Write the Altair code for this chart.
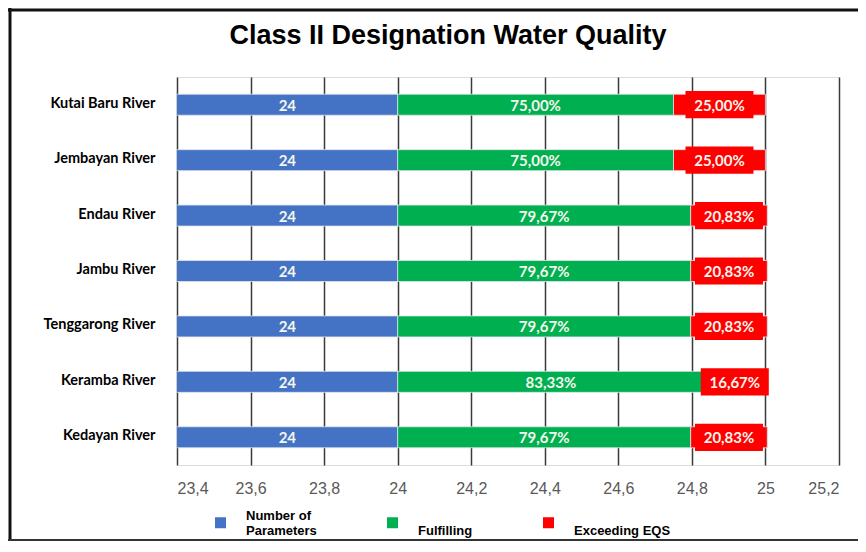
import altair as alt
import pandas as pd

rivers = ["Kutai Baru River", "Jembayan River", "Endau River", "Jambu River",
          "Tenggarong River", "Keramba River", "Kedayan River"]
params = [24, 24, 24, 24, 24, 24, 24]
fulfilling = [75.00, 75.00, 79.67, 79.67, 79.67, 83.33, 79.67]
exceeding = [25.00, 25.00, 20.83, 20.83, 20.83, 16.67, 20.83]
series = ["Number of Parameters", "Fulfilling", "Exceeding EQS"]
colors = ["#4472C4", "#00B050", "#FF0000"]
x_ticks = [23.4, 23.6, 23.8, 24.0, 24.2, 24.4, 24.6, 24.8, 25.0, 25.2]
x_min, x_max = 23.4, 25.2

def pct(v):
    return f"{v:.2f}%".replace(".", ",")

rows = []
for r, p, f, e in zip(rivers, params, fulfilling, exceeding):
    segs = [
        (series[0], 0.0, float(p), str(p)),
        (series[1], float(p), p + f / 100, pct(f)),
        (series[2], p + f / 100, p + f / 100 + e / 100, pct(e)),
    ]
    for s, a, b, lab in segs:
        rows.append({"river": r, "series": s, "start": a, "end": b,
                     "label": lab, "mid": (max(a, x_min) + b) / 2})
df = pd.DataFrame(rows)

W, H = 662, 388
PL, PT, PR, PB = 169, 69, 19, 77

xscale = alt.Scale(domain=[x_min, x_max], zero=False, nice=False)
yenc = alt.Y("river:N", sort=rivers, title=None,
             scale=alt.Scale(paddingInner=0, paddingOuter=0),
             axis=alt.Axis(domain=False, ticks=False, labelPadding=22,
                           labelFont="Lato", labelFontSize=14.5,
                           labelFontWeight="bold", labelColor="#000000",
                           labelOffset=-1))

base = alt.Chart(df)

bars = base.mark_bar(height=21, clip=True, stroke="#dfe3ec", strokeWidth=0.8).encode(
    x=alt.X("start:Q", scale=xscale, title=None,
            axis=alt.Axis(values=x_ticks, grid=True, gridColor="#3a3a3a",
                          gridWidth=1.5, domain=False, ticks=False,
                          labelPadding=15, labelFont="Liberation Sans",
                          labelFontSize=16, labelColor="#595959",
                          labelExpr="replace(format(datum.value, '.1~f'), '.', ',')")),
    x2="end:Q",
    y=yenc,
    color=alt.Color("series:N", scale=alt.Scale(domain=series, range=colors),
                    legend=alt.Legend(orient="none", legendX=37, legendY=439,
                                      direction="horizontal", title=None,
                                      symbolType="square", symbolSize=121,
                                      symbolStrokeWidth=0, labelOffset=19,
                                      columnPadding=69, padding=0,
                                      labelFont="Liberation Sans", labelFontSize=13,
                                      labelFontWeight="bold", labelColor="#000000",
                                      labelLimit=200, labelBaseline="bottom",
                                      labelExpr="datum.label == 'Number of Parameters' ? ['Number of', 'Parameters'] : ['', datum.label]")),
)

boxes = base.transform_filter(alt.datum.series == series[2]).mark_point(
    shape="M-1,-0.4H1V0.4H-1Z", filled=True, opacity=1, size=4624,
    color="#FF0000", strokeWidth=0
).encode(x=alt.X("mid:Q", scale=xscale), y=yenc)

texts = base.mark_text(font="Lato", fontSize=15, fontWeight="bold",
                       color="#f6f6ee", baseline="middle", align="center", dy=1).encode(
    x=alt.X("mid:Q", scale=xscale), y=yenc, text="label:N")

one = alt.Data(values=[{"k": 1}])
border_left = alt.Chart(one).mark_rule(color="#111111", strokeWidth=3).encode(
    x=alt.value(-167), y=alt.value(-PT), y2=alt.value(H + PB - 2))
border_top = alt.Chart(one).mark_rule(color="#111111", strokeWidth=3).encode(
    x=alt.value(-PL), x2=alt.value(W + PR), y=alt.value(-67))
border_bottom = alt.Chart(one).mark_rule(color="#333333", strokeWidth=2).encode(
    x=alt.value(-PL), x2=alt.value(W + PR), y=alt.value(H + PB - 2))

chart = alt.layer(bars, boxes, texts, border_left, border_top, border_bottom).properties(
    width=W, height=H,
    title=alt.TitleParams("Class II Designation Water Quality", anchor="middle",
                          frame="group", dx=-60, dy=64, offset=0,
                          baseline="alphabetic", font="Liberation Sans",
                          fontSize=27, fontWeight="bold", color="#000000"),
    autosize=alt.AutoSizeParams(type="none"),
    padding={"left": PL, "top": PT, "right": PR, "bottom": PB},
).configure_view(stroke=None).configure(background="#ffffff")

chart.save("out.html", embed_options={"renderer": "svg", "actions": False})
